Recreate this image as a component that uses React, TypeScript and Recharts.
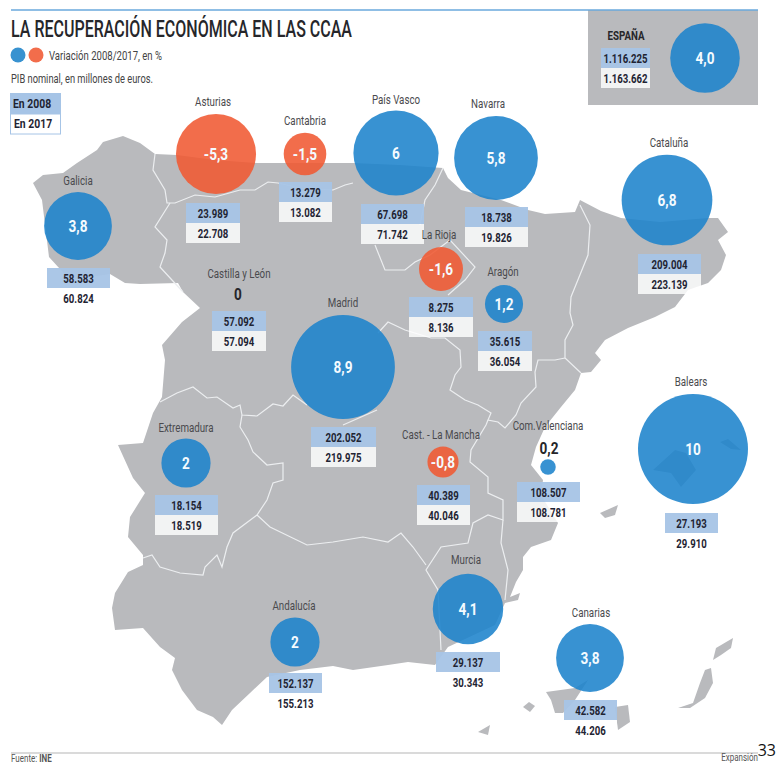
// App.tsx - bubble map of regional GDP change in Spain
import { ScatterChart, Scatter, XAxis, YAxis, ZAxis, Cell, LabelList } from 'recharts';

const WIDTH = 776;
const HEIGHT = 764;

const BLUE = '#1d83cc';
const RED = '#f05932';
const LAND = '#b9babd';
const FONT = 'Roboto, sans-serif';

// values
const regions = ['ESPAÑA', 'Galicia', 'Asturias', 'Cantabria', 'País Vasco', 'Navarra', 'Cataluña', 'La Rioja', 'Aragón', 'Castilla y León', 'Madrid', 'Extremadura', 'Cast. - La Mancha', 'Com.Valenciana', 'Balears', 'Murcia', 'Canarias', 'Andalucía'];
const variation = [4.0, 3.8, -5.3, -1.5, 6, 5.8, 6.8, -1.6, 1.2, 0, 8.9, 2, -0.8, 0.2, 10, 4.1, 3.8, 2];
const variationLabels = ['4,0', '3,8', '-5,3', '-1,5', '6', '5,8', '6,8', '-1,6', '1,2', '0', '8,9', '2', '-0,8', '0,2', '10', '4,1', '3,8', '2'];
const pib2008 = ['1.116.225', '58.583', '23.989', '13.279', '67.698', '18.738', '209.004', '8.275', '35.615', '57.092', '202.052', '18.154', '40.389', '108.507', '27.193', '29.137', '42.582', '152.137'];
const pib2017 = ['1.163.662', '60.824', '22.708', '13.082', '71.742', '19.826', '223.139', '8.136', '36.054', '57.094', '219.975', '18.519', '40.046', '108.781', '29.910', '30.343', '44.206', '155.213'];

// where each region sits on the map
const mapX = [705, 78, 216, 305, 396, 496, 667, 441, 504, 237, 343, 186, 443, 548, 693, 468, 590, 295];
const mapY = [58, 226, 154, 154, 153, 158, 200, 269, 304, 295, 367, 463, 462, 467, 449, 609, 658, 642];
const nameX = [626, 78, 213, 305, 396, 488, 669, 439, 503, 239, 343, 186, 441, 548, 691, 466, 591, 294];
const nameY = [36, 181, 102, 121, 100, 104, 143, 235, 272, 274, 303, 428, 435, 426, 382, 560, 613, 606];
const boxLeft = [601, 47, 186, 279, 361, 465, 638, 409, 478, 212, 311, 155, 417, 517, 665, 436, 564, 269];
const boxTop = [48, 268, 203, 182, 204, 207, 254, 297, 331, 311, 427, 495, 485, 482, 513, 652, 700, 673];
const boxWidth = [49, 63, 54, 53, 63, 63, 63, 64, 54, 54, 65, 63, 53, 63, 53, 64, 53, 53];

const tableData = regions.map((name, i) => ({
  name,
  x: mapX[i],
  y: mapY[i],
  size: Math.abs(variation[i]),
  value: variation[i],
  inside: Math.abs(variation[i]) >= 0.5 ? variationLabels[i] : '',
  index: i,
}));

// coast and islands
const coast = [
  [33, 183], [43, 175], [63, 173], [77, 163], [97, 150], [103, 142], [123, 136], [140, 143], [155, 154], [177, 155],
  [215, 160], [257, 163], [283, 163], [333, 163], [353, 163], [400, 165], [443, 168], [448, 178], [461, 190], [501, 200],
  [528, 210], [545, 214], [575, 212], [580, 200], [601, 211], [621, 218], [660, 222], [708, 218], [718, 218], [728, 232],
  [718, 240], [726, 255], [721, 270], [708, 283], [688, 290], [675, 307], [655, 317], [628, 328], [605, 340], [595, 353],
  [601, 360], [591, 372], [581, 373], [575, 390], [561, 407], [545, 427], [536, 447], [531, 465], [543, 480], [541, 495],
  [558, 523], [551, 540], [531, 547], [523, 557], [523, 570], [516, 582], [510, 597], [520, 593], [518, 600], [505, 603],
  [495, 625], [448, 647], [435, 665], [408, 662], [388, 665], [353, 670], [333, 666], [300, 670], [267, 677], [250, 693],
  [232, 710], [222, 725], [213, 717], [197, 710], [182, 690], [172, 670], [175, 658], [160, 647], [143, 628], [115, 630],
  [112, 608], [115, 593], [128, 572], [143, 565], [143, 555], [128, 537], [130, 517], [145, 493], [133, 478], [118, 445],
  [143, 443], [153, 413], [162, 397], [165, 360], [162, 345], [182, 322], [200, 308], [183, 292], [178, 283], [140, 284],
  [125, 283], [110, 274], [70, 280], [49, 257], [42, 200],
];
const islands = [
  [[600, 513], [618, 505], [615, 515], [605, 518]],
  [[653, 470], [675, 450], [686, 453], [696, 470], [681, 487], [671, 473]],
  [[720, 442], [728, 439], [741, 450], [731, 449]],
  [[713, 660], [716, 648], [733, 638], [731, 648], [721, 655]],
  [[678, 708], [693, 703], [700, 683], [705, 670], [711, 668], [713, 683], [705, 698], [690, 708]],
  [[615, 707], [628, 705], [630, 722], [618, 730]],
  [[546, 692], [575, 688], [588, 680], [575, 700], [563, 713], [555, 713], [551, 700]],
  [[523, 707], [529, 702], [535, 706], [530, 712]],
  [[478, 732], [490, 725], [488, 735]],
];
const borders = [
  [[155, 154], [153, 170], [165, 190], [167, 203], [175, 203], [195, 195], [215, 197], [240, 190], [255, 190], [268, 182], [278, 183], [300, 188], [333, 190], [345, 185], [353, 183]],
  [[170, 203], [155, 227], [167, 240], [165, 253], [160, 267], [183, 292]],
  [[443, 168], [435, 185], [425, 200], [420, 225]],
  [[375, 245], [385, 270], [405, 270], [415, 262], [430, 255], [450, 240], [475, 267], [465, 280], [448, 295]],
  [[580, 205], [590, 225], [588, 255], [571, 297], [570, 313], [573, 325], [565, 340], [565, 358], [581, 373]],
  [[565, 358], [555, 360], [538, 360], [535, 372], [536, 387], [521, 403], [516, 415], [505, 428], [498, 422], [488, 420], [491, 413], [478, 405], [465, 400], [450, 390], [455, 375], [461, 367], [460, 350], [445, 338], [431, 338], [405, 330], [388, 322], [378, 333]],
  [[488, 420], [486, 425], [471, 450], [470, 462], [488, 477], [488, 493], [503, 500], [503, 520], [488, 515], [473, 523], [468, 543], [441, 547], [426, 570], [438, 590], [441, 650]],
  [[503, 520], [501, 543], [508, 570], [505, 600]],
  [[426, 565], [413, 547], [401, 533], [388, 542], [363, 537], [333, 542], [307, 545], [270, 527], [257, 515]],
  [[160, 402], [177, 393], [193, 387], [207, 398], [217, 397], [233, 408], [240, 405], [242, 415], [257, 416], [273, 404], [283, 406], [293, 395], [307, 405]],
  [[242, 415], [240, 427], [248, 440], [253, 452], [267, 465], [283, 463], [283, 480], [273, 483], [267, 500], [257, 515], [233, 533], [227, 547], [222, 567], [217, 555], [205, 567], [203, 575], [180, 573], [160, 567], [152, 555], [143, 558]],
  [[343, 425], [377, 410]],
];

const toPoints = (pts: number[][]) => pts.map(p => p.join(',')).join(' ');

// the original uses a condensed face, none is installed so squeeze Roboto
function Narrow({ x, y, squeeze = 0.76, children, ...rest }: any) {
  return (
    <text transform={`translate(${x} ${y}) scale(${squeeze} 1)`} fontFamily={FONT} {...rest}>
      {children}
    </text>
  );
}

// map, titles and footer sit behind the transparent chart
function MapBackground() {
  return (
    <svg width={WIDTH} height={HEIGHT} style={{ position: 'absolute', left: 0, top: 0 }} fontFamily={FONT}>
      <polygon points={toPoints(coast)} fill={LAND} />
      {islands.map((pts, i) => <polygon key={i} points={toPoints(pts)} fill={LAND} />)}
      {borders.map((pts, i) => <polyline key={i} points={toPoints(pts)} fill="none" stroke="#eceef0" strokeWidth={1.2} />)}
      <rect x={588} y={10} width={170} height={95} fill={LAND} />
      <line x1={11} x2={758} y1={10} y2={10} stroke="#6aa9dc" strokeWidth={1.5} />
      <text x={11} y={37} fontSize={23} fontWeight={500} fill="#26262a" textLength={341} lengthAdjust="spacingAndGlyphs">LA RECUPERACIÓN ECONÓMICA EN LAS CCAA</text>
      <circle cx={18} cy={55} r={7.5} fill="#3892d0" />
      <circle cx={36} cy={55} r={7.5} fill="#f26d4b" />
      <text x={49} y={60} fontSize={13} fill="#444" textLength={113} lengthAdjust="spacingAndGlyphs">Variación 2008/2017, en %</text>
      <text x={11} y={83} fontSize={13} fill="#444" textLength={142} lengthAdjust="spacingAndGlyphs">PIB nominal, en millones de euros.</text>
      <rect x={10} y={93} width={51} height={21} fill="#a6c4e6" />
      <rect x={10.5} y={114} width={50} height={20} fill="#fff" stroke="#a6c4e6" />
      <Narrow x={13} y={108} fontSize={13} fontWeight="bold" fill="#1f2433" squeeze={0.8}>En 2008</Narrow>
      <Narrow x={14} y={128} fontSize={13} fontWeight="bold" fill="#1f2433" squeeze={0.8}>En 2017</Narrow>
      <line x1={11} x2={758} y1={753} y2={753} stroke="#b5b5b5" strokeWidth={1} />
      <Narrow x={11} y={762} fontSize={10} fill="#555" squeeze={0.8}>Fuente: <tspan fontWeight="bold">INE</tspan></Narrow>
      <Narrow x={758} y={761} fontSize={10} fill="#555" textAnchor="end" squeeze={0.8}>Expansión</Narrow>
      <text x={776} y={756} fontSize={16} fill="#111" textAnchor="end" fontFamily="'Open Sans', sans-serif">33</text>
    </svg>
  );
}

// value printed inside a bubble
function BubbleValue(props: any) {
  const { x, y, width, height, value } = props;
  if (!value) return null;
  return (
    <Narrow x={x + width / 2} y={y + height / 2 + 6} textAnchor="middle" fontSize={17} fontWeight="bold" fill="#f4fbff" squeeze={0.8}>
      {value}
    </Narrow>
  );
}

// region name, the two GDP boxes and, for very small changes, the value outside the bubble
function RegionLabel(props: any) {
  const { cx, cy, payload } = props;
  const i = payload.index;
  const dx = cx - mapX[i];
  const dy = cy - mapY[i];
  const left = boxLeft[i] + dx;
  const top = boxTop[i] + dy;
  const w = boxWidth[i];
  const isTotal = i === 0;
  return (
    <g>
      <Narrow x={nameX[i] + dx} y={nameY[i] + dy + 4} textAnchor="middle" fontSize={13} fontWeight={isTotal ? 'bold' : 'normal'} fill={isTotal ? '#26262a' : '#4a4a4e'} squeeze={0.75}>
        {regions[i]}
      </Narrow>
      <rect x={left} y={top} width={w} height={20} fill="#a6c4e6" fillOpacity={0.95} />
      <rect x={left} y={top + 20} width={w} height={20} fill="#fff" fillOpacity={0.82} />
      <Narrow x={left + w / 2} y={top + 14.5} textAnchor="middle" fontSize={13} fontWeight="bold" fill="#1f2433" squeeze={0.74}>{pib2008[i]}</Narrow>
      <Narrow x={left + w / 2} y={top + 34.5} textAnchor="middle" fontSize={13} fontWeight="bold" fill="#1f2433" squeeze={0.74}>{pib2017[i]}</Narrow>
      {payload.inside === '' && (
        <Narrow x={cx + 1} y={i === 13 ? cy - 13 : cy + 5} textAnchor="middle" fontSize={17} fontWeight="bold" fill="#26262a" squeeze={0.8}>
          {variationLabels[i]}
        </Narrow>
      )}
    </g>
  );
}

export default function App() {
  return (
    <div style={{ position: 'absolute', left: 0, top: 0, width: WIDTH, height: HEIGHT, background: '#fff', overflow: 'hidden' }}>
      <MapBackground />
      <div style={{ position: 'absolute', left: 0, top: 0 }}>
        <ScatterChart width={WIDTH} height={HEIGHT} margin={{ top: 0, right: 0, bottom: 0, left: 0 }}>
          <XAxis type="number" dataKey="x" domain={[0, WIDTH]} hide />
          <YAxis type="number" dataKey="y" domain={[0, HEIGHT]} reversed hide />
          {/* bubble area follows the size of the change, Balears (10) has r = 55 */}
          <ZAxis type="number" dataKey="size" domain={[0, 10]} range={[0, 9503]} />
          <Scatter data={tableData} shape="circle" fillOpacity={0.88} isAnimationActive={false}>
            {tableData.map((entry, index) => (
              <Cell key={`cell-${index}`} fill={entry.value < 0 ? RED : BLUE} />
            ))}
            <LabelList dataKey="inside" content={BubbleValue} />
          </Scatter>
          <Scatter data={tableData} shape={RegionLabel} isAnimationActive={false} />
        </ScatterChart>
      </div>
    </div>
  );
}
